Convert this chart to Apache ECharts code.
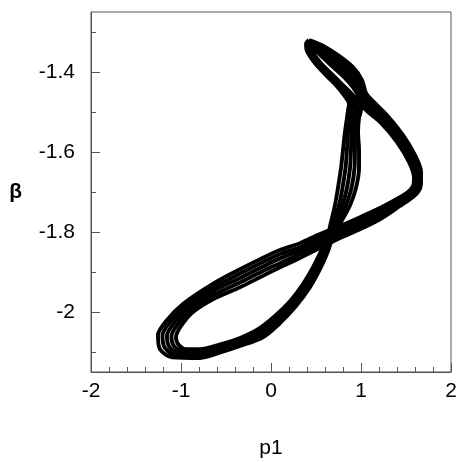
<!DOCTYPE html>
<html>
<head>
<meta charset="utf-8">
<script src="https://cdn.jsdelivr.net/npm/echarts@6/dist/echarts.min.js"></script>
<style>
  html, body { margin: 0; padding: 0; background: #fff; }
  #chart { width: 457px; height: 462px; }
</style>
</head>
<body>
<div id="chart"></div>
<script>
// Trajectory in the (p1, β) plane: five neighbouring orbits that together form the band.
const orbitOuter = [
  [0.422,-1.320],[0.567,-1.333],[0.744,-1.358],[0.911,-1.388],[1.011,-1.420],[1.056,-1.453],
  [1.133,-1.473],[1.289,-1.508],[1.467,-1.558],[1.600,-1.608],[1.667,-1.650],
  [1.667,-1.680],[1.633,-1.700],[1.544,-1.718],
  [1.433,-1.735],[1.211,-1.768],[0.989,-1.793],[0.767,-1.815],[0.544,-1.840],[0.322,-1.865],[0.100,-1.888],[-0.122,-1.913],[-0.344,-1.938],
  [-0.644,-1.968],[-0.867,-2.000],[-1.000,-2.035],[-1.056,-2.063],[-1.022,-2.083],[-0.933,-2.093],[-0.789,-2.093],[-0.544,-2.080],[-0.344,-2.065],
  [-0.144,-2.043],[0.044,-2.010],[0.211,-1.973],[0.356,-1.930],[0.467,-1.888],[0.556,-1.848],[0.622,-1.815],
  [0.667,-1.775],[0.711,-1.733],[0.744,-1.690],[0.778,-1.640],[0.800,-1.595],[0.822,-1.550],[0.844,-1.515],[0.856,-1.495],
  [0.867,-1.480],[0.811,-1.458],[0.722,-1.433],[0.633,-1.413],[0.489,-1.378],[0.400,-1.348],[0.389,-1.330]
];
const orbitA = [
  [0.422,-1.325],[0.552,-1.337],[0.722,-1.364],[0.889,-1.394],[0.986,-1.424],[1.033,-1.454],
  [1.108,-1.477],[1.269,-1.512],[1.450,-1.562],[1.583,-1.612],[1.647,-1.654],
  [1.644,-1.681],[1.606,-1.700],[1.517,-1.718],
  [1.433,-1.730],[1.211,-1.760],[0.989,-1.785],[0.767,-1.808],[0.544,-1.831],[0.322,-1.855],[0.100,-1.878],[-0.122,-1.901],[-0.344,-1.926],
  [-0.644,-1.958],[-0.894,-1.995],[-1.044,-2.033],[-1.106,-2.061],[-1.078,-2.085],[-0.978,-2.098],[-0.789,-2.098],[-0.544,-2.085],[-0.344,-2.070],
  [-0.133,-2.048],[0.056,-2.015],[0.228,-1.975],[0.378,-1.931],[0.489,-1.889],[0.578,-1.848],[0.639,-1.814],
  [0.694,-1.775],[0.756,-1.733],[0.794,-1.690],[0.828,-1.640],[0.844,-1.595],[0.856,-1.550],[0.878,-1.515],[0.889,-1.495],
  [0.900,-1.480],[0.833,-1.457],[0.741,-1.433],[0.652,-1.413],[0.506,-1.378],[0.417,-1.349],[0.397,-1.331]
];
const orbitMid = [
  [0.422,-1.330],[0.539,-1.341],[0.706,-1.370],[0.867,-1.401],[0.961,-1.429],[1.011,-1.455],
  [1.083,-1.481],[1.250,-1.516],[1.433,-1.566],[1.567,-1.616],[1.628,-1.658],
  [1.622,-1.683],[1.578,-1.700],[1.489,-1.719],
  [1.433,-1.725],[1.211,-1.754],[0.989,-1.778],[0.767,-1.800],[0.544,-1.823],[0.322,-1.846],[0.100,-1.866],[-0.122,-1.890],[-0.344,-1.915],
  [-0.644,-1.948],[-0.922,-1.990],[-1.083,-2.029],[-1.156,-2.060],[-1.128,-2.088],[-1.017,-2.103],[-0.789,-2.104],[-0.544,-2.090],[-0.344,-2.075],
  [-0.117,-2.053],[0.072,-2.019],[0.244,-1.979],[0.394,-1.934],[0.506,-1.890],[0.594,-1.848],[0.656,-1.813],
  [0.722,-1.775],[0.794,-1.733],[0.844,-1.690],[0.878,-1.640],[0.889,-1.595],[0.894,-1.550],[0.911,-1.515],[0.928,-1.495],
  [0.928,-1.480],[0.856,-1.456],[0.761,-1.433],[0.672,-1.413],[0.522,-1.378],[0.433,-1.350],[0.406,-1.333]
];
const orbitB = [
  [0.433,-1.335],[0.524,-1.346],[0.686,-1.376],[0.844,-1.408],[0.936,-1.433],[0.989,-1.456],
  [1.058,-1.486],[1.230,-1.521],[1.417,-1.571],[1.550,-1.621],[1.608,-1.661],
  [1.600,-1.684],[1.550,-1.700],[1.461,-1.716],
  [1.433,-1.720],[1.211,-1.748],[0.989,-1.770],[0.767,-1.793],[0.544,-1.814],[0.322,-1.838],[0.100,-1.855],[-0.122,-1.879],[-0.344,-1.904],
  [-0.639,-1.938],[-0.950,-1.985],[-1.122,-2.025],[-1.206,-2.059],[-1.178,-2.090],[-1.056,-2.108],[-0.789,-2.110],[-0.544,-2.095],[-0.344,-2.080],
  [-0.100,-2.058],[0.089,-2.024],[0.261,-1.983],[0.411,-1.936],[0.522,-1.891],[0.611,-1.848],[0.672,-1.811],
  [0.750,-1.775],[0.833,-1.733],[0.894,-1.690],[0.928,-1.640],[0.933,-1.595],[0.933,-1.550],[0.944,-1.515],[0.967,-1.495],
  [0.956,-1.480],[0.878,-1.456],[0.778,-1.433],[0.689,-1.413],[0.539,-1.378],[0.450,-1.351],[0.415,-1.334]
];
const orbitInner = [
  [0.444,-1.338],[0.511,-1.350],[0.667,-1.383],[0.822,-1.415],[0.911,-1.438],[0.967,-1.458],
  [1.033,-1.490],[1.211,-1.525],[1.400,-1.575],[1.533,-1.625],[1.589,-1.665],
  [1.578,-1.685],[1.522,-1.700],[1.433,-1.713],
  [1.211,-1.740],[0.989,-1.763],[0.767,-1.785],[0.544,-1.805],[0.322,-1.828],[0.100,-1.845],[-0.122,-1.868],[-0.344,-1.893],
  [-0.633,-1.928],[-0.978,-1.980],[-1.167,-2.023],[-1.256,-2.058],[-1.233,-2.093],[-1.100,-2.113],[-0.789,-2.115],[-0.544,-2.100],[-0.344,-2.085],
  [-0.089,-2.063],[0.100,-2.028],[0.278,-1.985],[0.433,-1.938],[0.544,-1.893],[0.633,-1.848],[0.689,-1.810],
  [0.778,-1.775],[0.878,-1.733],[0.944,-1.690],[0.978,-1.640],[0.978,-1.595],[0.967,-1.550],[0.978,-1.515],[1.000,-1.495],
  [0.989,-1.480],[0.900,-1.455],[0.800,-1.433],[0.711,-1.413],[0.556,-1.378],[0.467,-1.353],[0.422,-1.335]
];

const orbits = [orbitOuter, orbitA, orbitMid, orbitB, orbitInner];

// Axis ticks and labels
const xRange = [-2, 2];
const yRange = [-2.15, -1.25];
const yMajorTicks = [-2.0, -1.8, -1.6, -1.4];
const yMinorTicks = [-2.1, -1.9, -1.7, -1.5, -1.3];

const axisGray = '#555';
const font = 'Liberation Sans, Arial, sans-serif';

const chart = echarts.init(document.getElementById('chart'), null, { renderer: 'canvas' });

chart.setOption({
  animation: false,
  backgroundColor: '#fff',
  grid: {
    left: 91, right: 6, top: 12, bottom: 90,
    outerBoundsMode: 'none', containLabel: false,
    show: true, borderColor: axisGray, borderWidth: 1, backgroundColor: 'transparent'
  },
  xAxis: {
    type: 'value', min: xRange[0], max: xRange[1], interval: 1,
    name: 'p1', nameLocation: 'middle', nameGap: 66,
    nameTextStyle: { fontSize: 21, color: '#000', fontFamily: font },
    axisLine: { show: true, onZero: false, lineStyle: { color: axisGray, width: 1 } },
    axisTick: { show: true, inside: true, length: 9, lineStyle: { color: axisGray } },
    minorTick: { show: true, splitNumber: 5, length: 5, lineStyle: { color: axisGray } },
    axisLabel: { fontSize: 21, color: '#000', margin: 9, fontFamily: font },
    splitLine: { show: false }
  },
  yAxis: [
    {
      type: 'value', min: yRange[0], max: yRange[1], position: 'left',
      name: 'β', nameLocation: 'middle', nameRotate: 0, nameGap: 69,
      nameTextStyle: { fontSize: 21, fontWeight: 'bold', color: '#000', fontFamily: font },
      axisLine: { show: true, onZero: false, lineStyle: { color: axisGray, width: 1 } },
      axisTick: { show: true, inside: true, length: 9, customValues: yMajorTicks, lineStyle: { color: axisGray } },
      axisLabel: { customValues: yMajorTicks, fontSize: 21, color: '#000', margin: 16, fontFamily: font,
                   formatter: v => String(Math.round(v * 10) / 10) },
      splitLine: { show: false }
    },
    {
      type: 'value', min: yRange[0], max: yRange[1], position: 'left', offset: 0,
      axisLine: { show: false, onZero: false },
      axisTick: { show: true, inside: true, length: 5, customValues: yMinorTicks, lineStyle: { color: axisGray } },
      axisLabel: { show: false },
      splitLine: { show: false }
    }
  ],
  series: orbits.map(orbit => ({
    type: 'line',
    data: orbit.concat([orbit[0]]),
    showSymbol: false,
    smooth: 0.3,
    silent: true,
    lineStyle: { color: '#000', width: 3.9 }
  }))
});
</script>
</body>
</html>
